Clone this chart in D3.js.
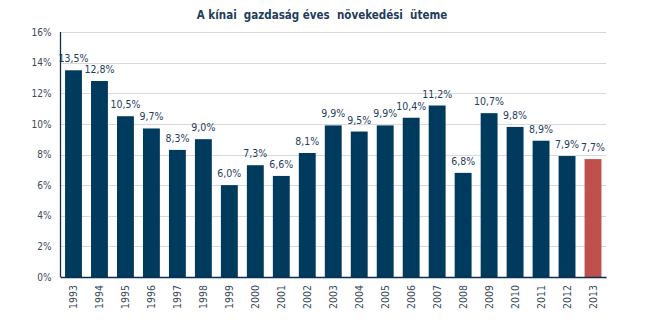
<!DOCTYPE html>
<html><head><meta charset="utf-8">
<script src="https://cdn.jsdelivr.net/npm/d3@7"></script>
<style>
body{margin:0;background:#fff;}
svg{display:block;}
text{font-family:'DejaVu Sans Condensed','DejaVu Sans',sans-serif;}
</style></head>
<body><svg id="c" width="645" height="322"></svg>
<script>
const years = ["1993","1994","1995","1996","1997","1998","1999","2000","2001","2002","2003","2004","2005","2006","2007","2008","2009","2010","2011","2012","2013"];
const growth = [13.5,12.8,10.5,9.7,8.3,9.0,6.0,7.3,6.6,8.1,9.9,9.5,9.9,10.4,11.2,6.8,10.7,9.8,8.9,7.9,7.7];
const yTicks = [0,2,4,6,8,10,12,14,16];
const title = "A kínai  gazdaság éves  növekedési  üteme";

const svg = d3.select("#c");
const m = {left:60.5, right:606, top:32, bottom:277};
const x = d3.scaleBand().domain(years).range([m.left, m.right]).paddingInner(0.35).paddingOuter(0.175);
const y = d3.scaleLinear().domain([0,16]).range([m.bottom, m.top]);

svg.append("text").attr("x",322).attr("y",19).attr("text-anchor","middle")
  .attr("font-size",11.5).attr("font-weight","bold").attr("fill","#1f3d5c")
  .style("white-space","pre").text(title);

// gridlines
svg.append("g").selectAll("line").data(yTicks.filter(d=>d>0)).join("line")
  .attr("x1",m.left).attr("x2",m.right)
  .attr("y1",d=>Math.round(y(d))+0.5).attr("y2",d=>Math.round(y(d))+0.5)
  .attr("stroke","#d9d9d9").attr("stroke-width",1);

// y axis
const ya = svg.append("g").attr("transform",`translate(${m.left},0)`)
  .call(d3.axisLeft(y).tickValues(yTicks).tickFormat(d=>d+"%").tickSize(0).tickPadding(9));
ya.select(".domain").remove();
ya.selectAll("text").attr("font-size",10).attr("fill","#3b4a5a").attr("font-family","'DejaVu Sans Condensed','DejaVu Sans',sans-serif");

// bars
svg.append("g").selectAll("rect").data(years).join("rect")
  .attr("x",d=>x(d)).attr("width",x.bandwidth())
  .attr("y",(d,i)=>y(growth[i])).attr("height",(d,i)=>y(0)-y(growth[i]))
  .attr("fill",(d,i)=>i===years.length-1?"#c0504d":"#003a5d");

// value labels
svg.append("g").selectAll("text").data(years).join("text")
  .attr("x",d=>x(d)+x.bandwidth()/2).attr("y",(d,i)=>y(growth[i])-8)
  .attr("text-anchor","middle").attr("font-size",10.5).attr("fill","#1f3d5c")
  .text((d,i)=>growth[i].toFixed(1).replace(".",",")+"%");

// axis lines
svg.append("line").attr("x1",m.left).attr("x2",m.left).attr("y1",m.top).attr("y2",m.bottom+0.5)
  .attr("stroke","#0b2f4f").attr("stroke-width",1.3);
const xa = svg.append("g").attr("transform",`translate(0,${m.bottom})`)
  .call(d3.axisBottom(x).tickSize(0).tickPadding(0));
xa.select(".domain").attr("stroke","#0b2f4f").attr("stroke-width",1.3);
xa.selectAll("text").attr("font-size",10.5).attr("fill","#3b4a5a")
  .attr("font-family","'DejaVu Sans Condensed','DejaVu Sans',sans-serif")
  .attr("transform","rotate(-90)").attr("text-anchor","end")
  .attr("x",-8).attr("y",0).attr("dy","0.35em");
</script></body></html>
